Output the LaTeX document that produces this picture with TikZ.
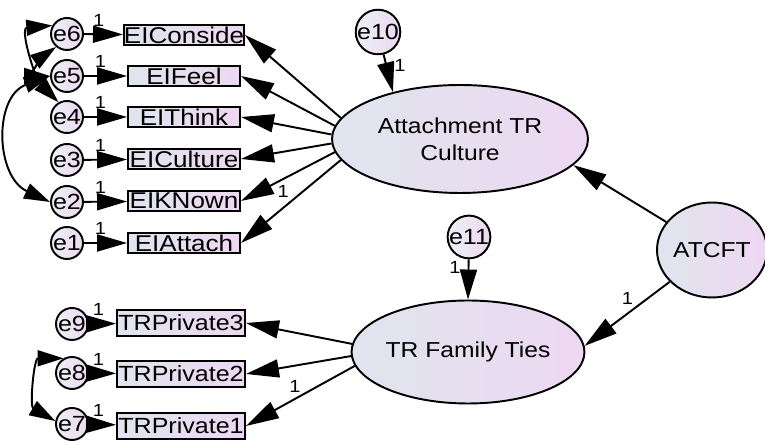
\documentclass[tikz,border=0pt]{standalone}
\usepackage{fontspec}
\setmainfont{Liberation Sans}[FakeStretch=1.14]
\definecolor{semblue}{RGB}{224,229,238}
\definecolor{sempink}{RGB}{237,216,241}
\usetikzlibrary{arrows.meta, shapes.geometric}

\begin{document}
\begin{tikzpicture}[
    x=0.02cm, y=0.02cm,
    err/.style={
      circle, draw, line width=1.1pt, left color=semblue!60!white, right color=sempink,
      inner sep=0pt, minimum size=0.64cm, font=\fontsize{12.5}{14}\selectfont
    },
    bigerr/.style={err, minimum size=0.8cm},
    obs/.style={
      rectangle, draw, line width=1.1pt, left color=semblue, right color=sempink,
      inner sep=0pt, minimum width=2.24cm, minimum height=0.4cm,
      font=\fontsize{13}{14}\selectfont
    },
    trobs/.style={obs, minimum width=2.56cm, minimum height=0.52cm, font=\fontsize{12.5}{14}\selectfont},
    lat/.style={
      ellipse, draw, line width=1.1pt, left color=semblue, right color=sempink,
      inner sep=0pt, align=center, font=\fontsize{12.3}{15.4}\selectfont
    },
    load/.style={-{Triangle[length=0.66cm, width=0.36cm]}, line width=1.1pt},
    short/.style={-{Triangle[length=0.6cm, width=0.34cm]}, line width=1.1pt},
    cov/.style={{Triangle[length=0.52cm, width=0.32cm]}-{Triangle[length=0.52cm, width=0.32cm]}, line width=1.1pt},
    one/.style={font=\fontsize{10}{11}\selectfont, inner sep=1pt}
  ]
  \useasboundingbox (0,0) rectangle (765,442);

  % latent variables
  \node[lat, minimum width=5.12cm, minimum height=2.16cm] (att) at (460,303) {Attachment TR\\Culture};
  \node[lat, minimum width=4.26cm, minimum height=2.06cm] (tr) at (468,90) {TR Family Ties};
  \node[lat, minimum width=2.2cm, minimum height=1.9cm] (atc) at (712,192) {ATCFT};

  % indicators
  \node[obs] (b6) at (184,407) {EIConside};
  \node[obs] (b5) at (184,366) {EIFeel};
  \node[obs] (b4) at (184,325) {EIThink};
  \node[obs] (b3) at (184,283) {EICulture};
  \node[obs] (b2) at (184,241) {EIKNown};
  \node[obs] (b1) at (184,199) {EIAttach};
  \node[trobs] (t3) at (181,119) {TRPrivate3};
  \node[trobs] (t2) at (181,68) {TRPrivate2};
  \node[trobs] (t1) at (181,16) {TRPrivate1};

  % error terms
  \node[err] (e6) at (67,408) {e6};
  \node[err] (e5) at (67,366) {e5};
  \node[err] (e4) at (67,325) {e4};
  \node[err] (e3) at (67,282) {e3};
  \node[err] (e2) at (67,240) {e2};
  \node[err] (e1) at (67,199) {e1};
  \node[err] (e9) at (72,118) {e9};
  \node[err] (e8) at (72,69) {e8};
  \node[err] (e7) at (72,18) {e7};
  \node[bigerr] (e10) at (378,410) {e10};
  \node[bigerr] (e11) at (469,205) {e11};

  % error paths
  \draw[short] (e6) -- (b6) node[one, pos=0.38, above=3pt] {1};
  \draw[short] (e5) -- (b5) node[one, pos=0.38, above=3pt] {1};
  \draw[short] (e4) -- (b4) node[one, pos=0.38, above=3pt] {1};
  \draw[short] (e3) -- (b3) node[one, pos=0.38, above=3pt] {1};
  \draw[short] (e2) -- (b2) node[one, pos=0.38, above=3pt] {1};
  \draw[short] (e1) -- (b1) node[one, pos=0.38, above=3pt] {1};
  \draw[short] (e9) -- (t3) node[one, pos=0.35, above=3pt] {1};
  \draw[short] (e8) -- (t2) node[one, pos=0.35, above=3pt] {1};
  \draw[short] (e7) -- (t1) node[one, pos=0.35, above=3pt] {1};
  \draw[short] (e10) -- (att.145) node[one, pos=0.3, right=3pt] {1};
  \draw[short] (e11) -- (tr.north) node[one, pos=0.2, left=3pt] {1};

  % loadings
  \draw[load] (att.170) -- (b6.east);
  \draw[load] (att.174) -- (b5.east);
  \draw[load] (att.178) -- (b4.east);
  \draw[load] (att.182) -- (b3.east);
  \draw[load] (att.186) -- (b2.east) node[one, pos=0.55, below=2pt] {1};
  \draw[load] (att.190) -- (b1.east);
  \draw[load] (tr.176) -- (t3.east);
  \draw[load] (tr.182) -- (t2.east);
  \draw[load] (tr.187) -- (t1.east) node[one, pos=0.55, above=2pt] {1};

  % structural paths
  \draw[load] (atc) -- (att.347);
  \draw[load] (atc) -- (tr.3) node[one, pos=0.4, above left] {1};

  % covariances
  \draw[cov] (e6.150) to[out=185, in=135, looseness=1.1] (e4.120);
  \draw[cov] (e5.west) to[out=180, in=215, looseness=1.5] (e6.230);
  \draw[cov] (e5.west) to[out=200, in=155, looseness=1.23] (e2.west);
  \draw[cov] (e8.120) to[out=180, in=150, looseness=1.2] (e7.170);
\end{tikzpicture}
\end{document}
